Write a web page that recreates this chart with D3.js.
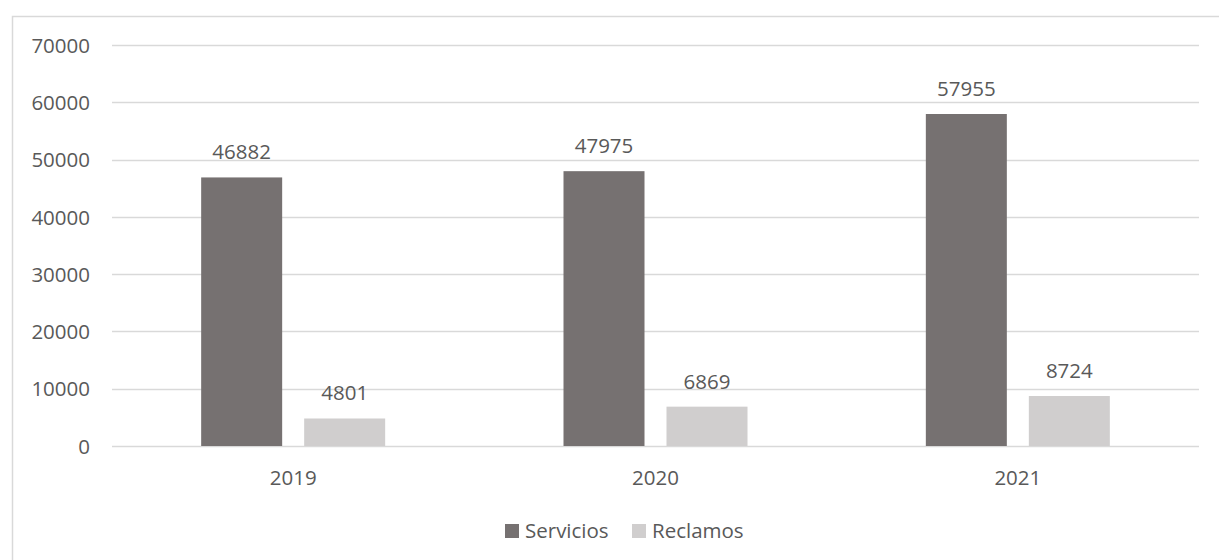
<!DOCTYPE html>
<html>
<head>
<meta charset="utf-8">
<script src="https://cdn.jsdelivr.net/npm/d3@7"></script>
<style>
  html, body { margin: 0; padding: 0; background: #fff; }
  svg { display: block; }
  text { font-family: "Open Sans", "Segoe UI", sans-serif; fill: #595959; }
</style>
</head>
<body>
<svg id="chart" width="1219" height="560"></svg>
<script>
// Data
const years = ["2019", "2020", "2021"];
const servicios = [46882, 47975, 57955];
const reclamos = [4801, 6869, 8724];
const seriesNames = ["Servicios", "Reclamos"];
const seriesColors = ["#767171", "#D0CECE"];
const yTicks = [0, 10000, 20000, 30000, 40000, 50000, 60000, 70000];

const W = 1219, H = 560;
const plot = { left: 112, right: 1199, top: 45, bottom: 446 };
const fontSize = 20.5;

const svg = d3.select("#chart");

// Chart area border (extends past the right and bottom edges)
svg.append("rect")
  .attr("x", 12.5).attr("y", 16.5)
  .attr("width", W + 20).attr("height", H + 20)
  .attr("fill", "none").attr("stroke", "#D9D9D9").attr("stroke-width", 1.5);

const y = d3.scaleLinear().domain([0, 70000]).range([plot.bottom, plot.top]);
const x = d3.scaleBand().domain(years).range([plot.left, plot.right]).padding(0);

// Bars within each category: 81px wide, 22px apart
const barW = 81, barGap = 22;
const groupW = barW * 2 + barGap;
const inner = d3.scaleOrdinal().domain(seriesNames).range([0, barW + barGap]);

// Gridlines
svg.append("g").selectAll("line").data(yTicks).join("line")
  .attr("x1", plot.left).attr("x2", plot.right)
  .attr("y1", d => Math.round(y(d)) + 0.5).attr("y2", d => Math.round(y(d)) + 0.5)
  .attr("stroke", "#D9D9D9").attr("stroke-width", 1.5);

// Y axis labels
const yAxis = d3.axisLeft(y).tickValues(yTicks).tickSize(0).tickPadding(0)
  .tickFormat(d3.format("d"));
const gy = svg.append("g").attr("transform", `translate(90,0)`).call(yAxis);
gy.select(".domain").remove();
gy.selectAll("text")
  .attr("font-size", fontSize).attr("font-family", null).attr("fill", "#595959")
  .attr("dy", "0.35em");

// X axis labels
const xAxis = d3.axisBottom(x).tickSize(0).tickPadding(0);
const gx = svg.append("g").attr("transform", `translate(0,${plot.bottom})`).call(xAxis);
gx.select(".domain").remove();
gx.selectAll("text")
  .attr("font-size", fontSize).attr("font-family", null).attr("fill", "#595959")
  .attr("dy", null).attr("y", 39);

const rows = years.map((yr, i) => ({ year: yr, values: [servicios[i], reclamos[i]] }));

const groups = svg.append("g").selectAll("g").data(rows).join("g")
  .attr("transform", d => `translate(${x(d.year) + x.bandwidth() / 2 - groupW / 2},0)`);

const cells = groups.selectAll("g").data(d => d.values.map((v, j) => ({ name: seriesNames[j], value: v, color: seriesColors[j] })))
  .join("g");

cells.append("rect")
  .attr("x", d => inner(d.name))
  .attr("y", d => y(d.value))
  .attr("width", barW)
  .attr("height", d => plot.bottom - y(d.value))
  .attr("fill", d => d.color);

cells.append("text")
  .attr("x", d => inner(d.name) + barW / 2)
  .attr("y", d => y(d.value) - 18)
  .attr("text-anchor", "middle")
  .attr("font-size", fontSize)
  .attr("fill", "#404040")
  .text(d => d.value);

// Legend
const legendItems = [
  { name: seriesNames[0], color: seriesColors[0], x: 505 },
  { name: seriesNames[1], color: seriesColors[1], x: 632 }
];
const lg = svg.append("g").selectAll("g").data(legendItems).join("g")
  .attr("transform", d => `translate(${d.x},524)`);
lg.append("rect").attr("width", 14).attr("height", 14).attr("fill", d => d.color);
lg.append("text").attr("x", 20).attr("y", 14).attr("font-size", fontSize)
  .text(d => d.name);
</script>
</body>
</html>
